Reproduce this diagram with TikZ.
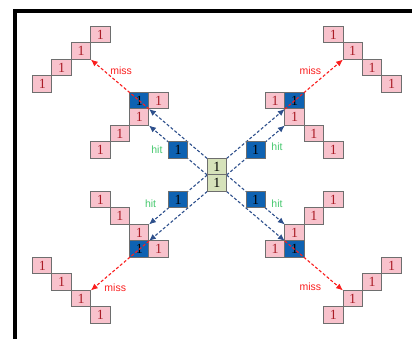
\documentclass[tikz,border=0pt]{standalone}
\usepackage{fontspec}
\setmainfont{Liberation Serif}
\newfontfamily\labelfont{Liberation Sans}
\usetikzlibrary{arrows.meta,backgrounds}
\definecolor{cellpink}{RGB}{248,194,204}
\definecolor{cellblue}{RGB}{14,98,178}
\definecolor{cellgreen}{RGB}{214,226,186}
\definecolor{cellborder}{RGB}{110,110,110}
\definecolor{digitred}{RGB}{170,28,38}
\definecolor{arrowblue}{RGB}{46,80,140}
\definecolor{arrowred}{RGB}{250,30,30}
\definecolor{hitgreen}{RGB}{70,200,110}
\begin{document}
\begin{tikzpicture}[x=19.4pt,y=-16.5pt,
  cell/.style={draw=cellborder,line width=1pt,minimum width=19.4pt,minimum height=16.5pt,inner sep=0pt,outer sep=0pt,font=\fontsize{14}{14}\selectfont},
  pinkcell/.style={cell,fill=cellpink,text=digitred},
  bluecell/.style={cell,fill=cellblue,text=black},
  greencell/.style={cell,fill=cellgreen,text=black},
  hitarrow/.style={draw=arrowblue,line width=1.1pt,dash pattern=on 3pt off 2pt,-{Latex[length=7pt,width=6pt]}},
  missarrow/.style={draw=arrowred,line width=1.1pt,dash pattern=on 3pt off 2pt,-{Latex[length=7pt,width=6pt]}},
  hitlabel/.style={text=hitgreen,font=\labelfont\fontsize{10.5}{10.5}\selectfont,inner sep=0pt},
  misslabel/.style={text=arrowred,font=\labelfont\fontsize{10.5}{10.5}\selectfont,inner sep=0pt}]
\useasboundingbox (-216.9pt,175pt) rectangle (195.1pt,-164pt);
\draw[line width=3.6pt] (-202.1pt,-164pt) -- (-202.1pt,164pt) -- (195.1pt,164pt);
% centre
\node[greencell] (c1) at (0,-0.5) {1};
\node[greencell] (c2) at (0,0.5) {1};
% upper left
\node[bluecell] (hUL) at (-2,-1.5) {1};
\node[bluecell] (bUL) at (-4,-4.5) {1};
\node[pinkcell] (pUL1) at (-3,-4.5) {1};
\node[pinkcell] (pUL2) at (-4,-3.5) {1};
\node[pinkcell] (pUL3) at (-5,-2.5) {1};
\node[pinkcell] (pUL4) at (-6,-1.5) {1};
\node[pinkcell] (oUL1) at (-6,-8.5) {1};
\node[pinkcell] (oUL2) at (-7,-7.5) {1};
\node[pinkcell] (oUL3) at (-8,-6.5) {1};
\node[pinkcell] (oUL4) at (-9,-5.5) {1};
% upper right
\node[bluecell] (hUR) at (2,-1.5) {1};
\node[bluecell] (bUR) at (4,-4.5) {1};
\node[pinkcell] (pUR1) at (3,-4.5) {1};
\node[pinkcell] (pUR2) at (4,-3.5) {1};
\node[pinkcell] (pUR3) at (5,-2.5) {1};
\node[pinkcell] (pUR4) at (6,-1.5) {1};
\node[pinkcell] (oUR1) at (6,-8.5) {1};
\node[pinkcell] (oUR2) at (7,-7.5) {1};
\node[pinkcell] (oUR3) at (8,-6.5) {1};
\node[pinkcell] (oUR4) at (9,-5.5) {1};
% lower left
\node[bluecell] (hLL) at (-2,1.5) {1};
\node[bluecell] (bLL) at (-4,4.5) {1};
\node[pinkcell] (pLL1) at (-3,4.5) {1};
\node[pinkcell] (pLL2) at (-4,3.5) {1};
\node[pinkcell] (pLL3) at (-5,2.5) {1};
\node[pinkcell] (pLL4) at (-6,1.5) {1};
\node[pinkcell] (oLL1) at (-6,8.5) {1};
\node[pinkcell] (oLL2) at (-7,7.5) {1};
\node[pinkcell] (oLL3) at (-8,6.5) {1};
\node[pinkcell] (oLL4) at (-9,5.5) {1};
% lower right
\node[bluecell] (hLR) at (2,1.5) {1};
\node[bluecell] (bLR) at (4,4.5) {1};
\node[pinkcell] (pLR1) at (3,4.5) {1};
\node[pinkcell] (pLR2) at (4,3.5) {1};
\node[pinkcell] (pLR3) at (5,2.5) {1};
\node[pinkcell] (pLR4) at (6,1.5) {1};
\node[pinkcell] (oLR1) at (6,8.5) {1};
\node[pinkcell] (oLR2) at (7,7.5) {1};
\node[pinkcell] (oLR3) at (8,6.5) {1};
\node[pinkcell] (oLR4) at (9,5.5) {1};
% hit arrows (behind cells)
\begin{scope}[on background layer]
\draw[hitarrow] (c1.north west) -- (bUL.south east);
\draw[hitarrow] (c1.south west) -- (pUL2.south east);
\draw[hitarrow] (c1.north east) -- (bUR.south west);
\draw[hitarrow] (c1.south east) -- (pUR2.south west);
\draw[hitarrow] (c2.north west) -- (pLL2.north east);
\draw[hitarrow] (c2.south west) -- (bLL.north east);
\draw[hitarrow] (c2.north east) -- (pLR2.north west);
\draw[hitarrow] (c2.south east) -- (bLR.north west);
\end{scope}
% miss arrows
\draw[missarrow] (bUL.south east) -- (oUL2.south east);
\draw[missarrow] (bUR.south west) -- (oUR2.south west);
\draw[missarrow] (bLL.north east) -- (oLL2.north east);
\draw[missarrow] (bLR.north west) -- (oLR2.north west);
% labels
\node[hitlabel] (lhUL) at (-3.09,-1.55) {hit};
\node[hitlabel] (lhUR) at (3.1,-1.7) {hit};
\node[hitlabel] (lhLL) at (-3.42,1.76) {hit};
\node[hitlabel] (lhLR) at (3.1,1.76) {hit};
\node[misslabel] (lmUL) at (-4.94,-6.32) {miss};
\node[misslabel] (lmUR) at (4.82,-6.32) {miss};
\node[misslabel] (lmLL) at (-5.24,6.85) {miss};
\node[misslabel] (lmLR) at (4.82,6.77) {miss};
\end{tikzpicture}
\end{document}
